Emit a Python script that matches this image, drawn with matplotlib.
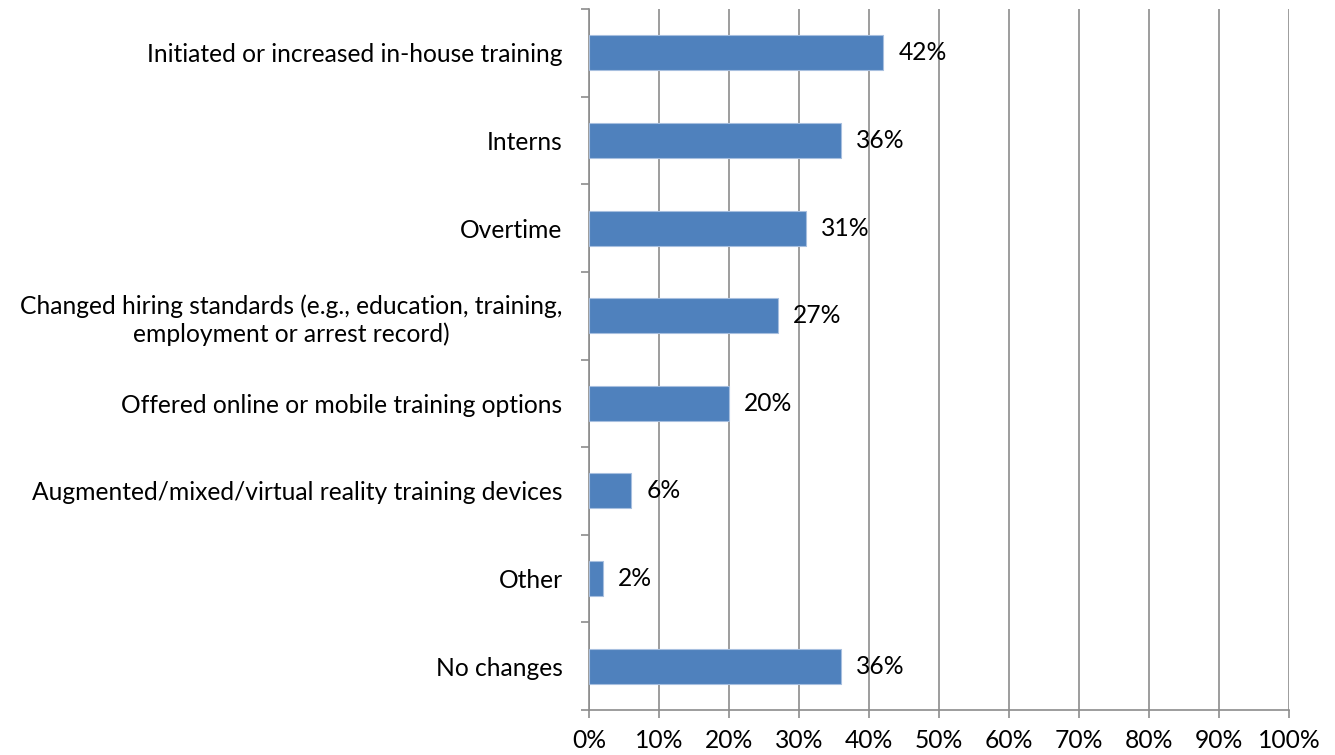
import matplotlib
matplotlib.use("Agg")
import matplotlib.pyplot as plt
from matplotlib.ticker import FixedLocator

categories = [
    "Initiated or increased in-house training",
    "Interns",
    "Overtime",
    "Changed hiring standards (e.g., education, training,\nemployment or arrest record)",
    "Offered online or mobile training options",
    "Augmented/mixed/virtual reality training devices",
    "Other",
    "No changes",
]
values = [42, 36, 31, 27, 20, 6, 2, 36]
xticks = [0, 10, 20, 30, 40, 50, 60, 70, 80, 90, 100]
xticklabels = [f"{t}%" for t in xticks]

plt.rcParams['font.family'] = ['Lato', 'DejaVu Sans']
FS = 17.7
grid_c = '#8c8c8c'
bar_c = '#4f81bd'

fig = plt.figure(figsize=(13.35, 7.55), dpi=100)
ax = fig.add_axes([589/1335, 1-710/755, 700/1335, 701/755])

n = len(categories)
ypos = list(range(n))
ax.barh(ypos, values, height=0.4, color=bar_c, edgecolor='#a7bfdf', linewidth=0.8, zorder=3)
for y, v in zip(ypos, values):
    ax.annotate(f"{v}%", xy=(v, y), xytext=(11, 0), textcoords='offset points',
                va='center', ha='left', fontsize=FS, color='black', zorder=4)

ax.set_xlim(0, 100)
ax.set_ylim(n - 0.5, -0.5)
ax.set_xticks(xticks)
ax.set_xticklabels(xticklabels, fontsize=FS)
ax.set_yticks(ypos)
ax.set_yticklabels(categories, fontsize=FS, multialignment='center', linespacing=1.25)
ax.yaxis.set_minor_locator(FixedLocator([i - 0.5 for i in range(n + 1)]))
ax.tick_params(axis='y', which='major', length=0, pad=19)
ax.tick_params(axis='y', which='minor', length=6, width=1.2, color=grid_c)
ax.tick_params(axis='x', which='major', length=6, width=1.2, color=grid_c, pad=8)

ax.grid(axis='x', color=grid_c, linewidth=1.2, zorder=0)
for s in ['top', 'right']:
    ax.spines[s].set_visible(False)
for s in ['left', 'bottom']:
    ax.spines[s].set_color(grid_c)
    ax.spines[s].set_linewidth(1.2)

fig.savefig("out.png", dpi=100)
